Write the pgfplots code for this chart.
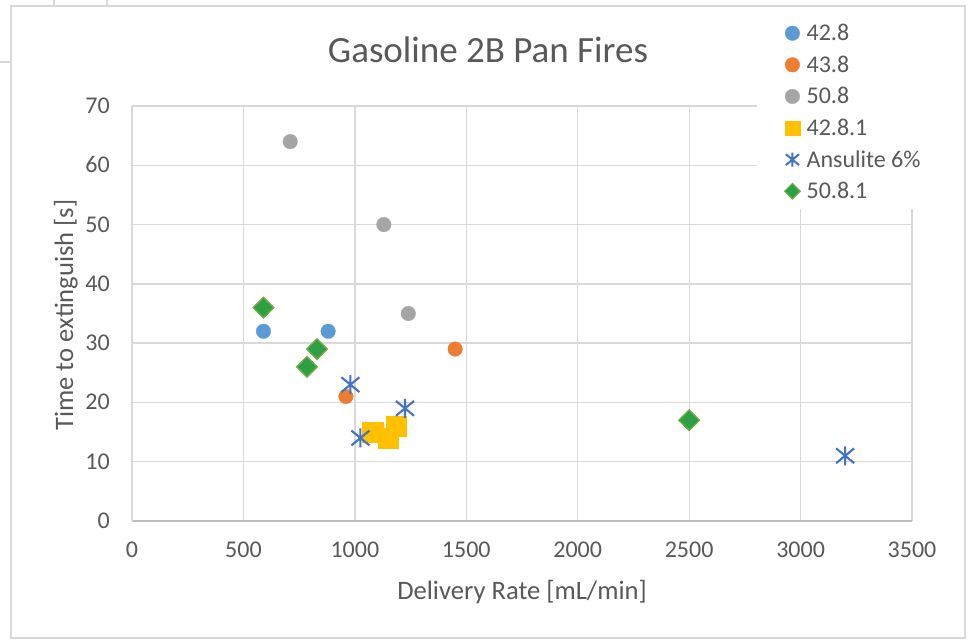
\documentclass[border=0pt]{standalone}
\usepackage{fontspec}
\setmainfont{Carlito}
\usepackage{pgfplots}
\pgfplotsset{compat=1.18}
\definecolor{cblue}{HTML}{5B9BD5}
\definecolor{corange}{HTML}{ED7D31}
\definecolor{cgray}{HTML}{A5A5A5}
\definecolor{cyellow}{HTML}{FFC000}
\definecolor{cstar}{HTML}{4472C4}
\definecolor{cgreen}{HTML}{2EA043}
\definecolor{cgreenb}{HTML}{70AD47}
\definecolor{gridc}{HTML}{D9D9D9}
\definecolor{axc}{HTML}{BFBFBF}
\definecolor{txt}{HTML}{595959}
\pgfdeclareplotmark{xstar}{%
  \pgfpathmoveto{\pgfqpoint{0pt}{\pgfplotmarksize}}%
  \pgfpathlineto{\pgfqpoint{0pt}{-\pgfplotmarksize}}%
  \pgfpathmoveto{\pgfqpoint{-0.95\pgfplotmarksize}{-0.78\pgfplotmarksize}}%
  \pgfpathlineto{\pgfqpoint{0.95\pgfplotmarksize}{0.78\pgfplotmarksize}}%
  \pgfpathmoveto{\pgfqpoint{-0.95\pgfplotmarksize}{0.78\pgfplotmarksize}}%
  \pgfpathlineto{\pgfqpoint{0.95\pgfplotmarksize}{-0.78\pgfplotmarksize}}%
  \pgfusepathqstroke}
\begin{document}
\begin{tikzpicture}
\path[use as bounding box, fill=white] (0,0) rectangle (971pt,642pt);
% spreadsheet cell grid remnants outside the chart
\draw[gridc, line width=1.2pt] (54pt,642pt) -- (54pt,636pt);
\draw[gridc, line width=1.2pt] (107pt,642pt) -- (107pt,636pt);
\draw[gridc, line width=1.2pt] (0pt,580pt) -- (11pt,580pt);
% chart border
\draw[gridc, line width=1.5pt] (11pt,4pt) rectangle (965pt,636pt);
\begin{axis}[
  at={(132pt,121pt)}, anchor=south west,
  scale only axis, width=780pt, height=415pt,
  xmin=0, xmax=3500, ymin=0, ymax=70,
  xtick={0,500,...,3500}, ytick={0,10,...,70},
  scaled x ticks=false, scaled y ticks=false,
  /pgf/number format/1000 sep={},
  /pgf/number format/assume math mode=true,
  axis lines*=left,
  x axis line style={draw=axc, line width=1.8pt},
  y axis line style={draw=gridc, line width=1.4pt},
  major tick length=0pt,
  tick style={draw=none},
  grid=major,
  major grid style={draw=gridc, line width=1.3pt},
  tick label style={font=\fontsize{24}{28}\selectfont, text=txt, inner sep=0pt},
  xticklabel style={anchor=base, yshift=-37pt},
  yticklabel style={anchor=base east, xshift=-22pt, yshift=-7.5pt},
  legend style={at={(axis description cs:0.8013,1.218)}, anchor=north west,
    draw=none, fill=white, inner xsep=23pt, inner ysep=8pt,
    row sep=12.6pt, column sep=2pt,
    font=\fontsize{24}{28}\selectfont, text=txt,
    nodes={inner sep=0pt, text height=17pt, text depth=2pt},
    cells={anchor=west}},
  legend image code/.code={\path (-12pt,0pt) (12pt,0pt);
    \draw[mark repeat=2,mark phase=2,#1] plot coordinates {(-12pt,0pt) (0pt,0pt) (12pt,0pt)};},
  legend entries={42.8,43.8,50.8,42.8.1,Ansulite 6\%,50.8.1},
]
% legend images
\addlegendimage{only marks, mark=*, mark size=7.3pt, mark options={fill=cblue, draw=cblue, line width=0.3pt}}
\addlegendimage{only marks, mark=*, mark size=7.3pt, mark options={fill=corange, draw=corange, line width=0.3pt}}
\addlegendimage{only marks, mark=*, mark size=7.3pt, mark options={fill=cgray, draw=cgray, line width=0.3pt}}
\addlegendimage{only marks, mark=square*, mark size=7.3pt, mark options={fill=cyellow, draw=cyellow, line width=0.3pt}}
\addlegendimage{only marks, mark=xstar, mark size=7pt, mark options={draw=cstar, line width=2pt}}
\addlegendimage{only marks, mark=square*, mark size=5.5pt, mark options={rotate=45, fill=cgreen, draw=cgreenb, line width=1.2pt}}
% data
\addplot[forget plot, only marks, mark=*, mark size=7.3pt, mark options={fill=cblue, draw=cblue, line width=0.3pt}]
  coordinates {(590,32) (880,32)};
\addplot[forget plot, only marks, mark=*, mark size=7.3pt, mark options={fill=corange, draw=corange, line width=0.3pt}]
  coordinates {(960,21) (1450,29)};
\addplot[forget plot, only marks, mark=*, mark size=7.3pt, mark options={fill=cgray, draw=cgray, line width=0.3pt}]
  coordinates {(710,64) (1130,50) (1240,35)};
\addplot[forget plot, only marks, mark=square*, mark size=10.3pt, mark options={fill=cyellow, draw=cyellow, line width=0.3pt}]
  coordinates {(1080,15) (1150,14) (1185,16)};
\addplot[forget plot, only marks, mark=xstar, mark size=9.5pt, mark options={draw=cstar, line width=2.1pt}]
  coordinates {(980,23) (1025,14) (1225,19) (3200,11)};
\addplot[forget plot, only marks, mark=square*, mark size=7.3pt, mark options={rotate=45, fill=cgreen, draw=cgreenb, line width=1.3pt}]
  coordinates {(590,36) (785,26) (830,29) (2500,17)};
\end{axis}
\node[font=\fontsize{37}{42}\selectfont, text=txt, anchor=base, inner sep=0pt] at (488pt,579pt) {Gasoline 2B Pan Fires};
\node[font=\fontsize{26.6}{30}\selectfont, text=txt, anchor=base, inner sep=0pt] at (522pt,42pt) {Delivery Rate [mL/min]};
\node[font=\fontsize{26.6}{30}\selectfont, text=txt, anchor=base, inner sep=0pt, rotate=90] at (73pt,327pt) {Time to extinguish [s]};
\end{tikzpicture}
\end{document}
